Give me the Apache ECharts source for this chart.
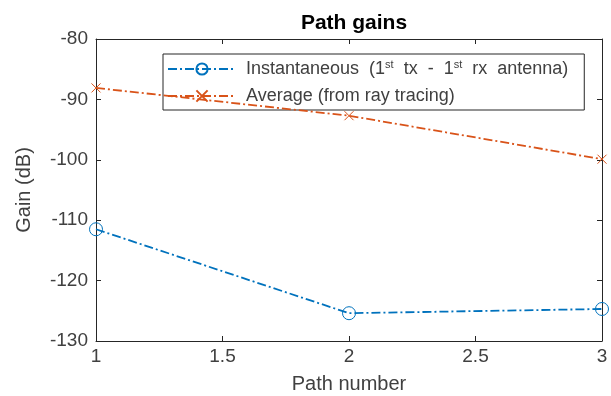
<!DOCTYPE html>
<html><head><meta charset="utf-8">
<script src="https://cdn.jsdelivr.net/npm/echarts@6/dist/echarts.min.js"></script>
<style>html,body{margin:0;padding:0;background:#fff}#c{width:611px;height:396px}</style>
</head><body><div id="c"></div>
<script>
const pathNumbers = [1, 2, 3];
const instantaneous = [-111.5, -125.4, -124.7];
const average = [-88.1, -92.7, -99.9];
const seriesNames = ['Instantaneous', 'Average'];
const xTicks = [1, 1.5, 2, 2.5, 3];
const yTicks = [-130, -120, -110, -100, -90, -80];

const axisCol = '#262626';
const labCol = '#404040';
const font = 'Arial, "Liberation Sans", Helvetica, sans-serif';
const chart = echarts.init(document.getElementById('c'));
const xPath = 'path://M0,0L10,10M10,0L0,10';
const dash = [9, 3, 2, 3];
chart.setOption({
  animation: false,
  backgroundColor: '#fff',
  title: {text: 'Path gains', left: 349, textAlign: 'center', top: 8,
    textStyle: {fontFamily: font, fontSize: 21, fontWeight: 'bold', color: '#000'}},
  grid: {left: 96, right: 9, top: 39, bottom: 55, outerBoundsMode: 'none', containLabel: false},
  legend: {
    orient: 'vertical', left: 163, top: 54,
    itemWidth: 68, itemHeight: 14, itemGap: 9,
    padding: [5, 16, 5, 4],
    borderColor: axisCol, borderWidth: 1, backgroundColor: '#fff',
    data: seriesNames,
    formatter: function (n) {
      if (n === 'Instantaneous') return '{a| Instantaneous  (1}{s|st}{a|  tx  -  1}{s|st}{a|  rx  antenna)}';
      return '{a| Average (from ray tracing)}';
    },
    textStyle: {fontFamily: font, fontSize: 18, color: labCol,
      rich: {a: {fontFamily: font, fontSize: 18, color: labCol, lineHeight: 20},
             s: {fontFamily: font, fontSize: 11, color: labCol, verticalAlign: 'top', lineHeight: 20, padding: [0, 0, 6, 0]}}}
  },
  xAxis: [{
    type: 'value', min: 1, max: 3, interval: 0.5,
    name: 'Path number', nameLocation: 'middle', nameGap: 33,
    nameTextStyle: {fontFamily: font, fontSize: 20, color: labCol},
    axisLine: {show: true, lineStyle: {color: axisCol}},
    axisTick: {show: true, inside: true, length: 5, lineStyle: {color: axisCol}},
    axisLabel: {fontFamily: font, fontSize: 19, color: labCol, margin: 6,
      customValues: xTicks, formatter: v => String(v)},
    splitLine: {show: false}
  }, {
    type: 'value', min: 1, max: 3, interval: 0.5, position: 'top',
    axisLine: {show: true, lineStyle: {color: axisCol}},
    axisTick: {show: true, inside: true, length: 5, lineStyle: {color: axisCol}},
    axisLabel: {show: false}, splitLine: {show: false}
  }],
  yAxis: [{
    type: 'value', min: -130, max: -80, interval: 10,
    name: 'Gain (dB)', nameLocation: 'middle', nameGap: 62, nameRotate: 90,
    nameTextStyle: {fontFamily: font, fontSize: 20, color: labCol},
    axisLine: {show: true, lineStyle: {color: axisCol}},
    axisTick: {show: true, inside: true, length: 5, lineStyle: {color: axisCol}},
    axisLabel: {fontFamily: font, fontSize: 19, color: labCol, margin: 8,
      customValues: yTicks},
    splitLine: {show: false}
  }, {
    type: 'value', min: -130, max: -80, interval: 10, position: 'right',
    axisLine: {show: true, lineStyle: {color: axisCol}},
    axisTick: {show: true, inside: true, length: 5, lineStyle: {color: axisCol}},
    axisLabel: {show: false}, splitLine: {show: false}
  }],
  series: [{
    name: seriesNames[0], type: 'line',
    data: pathNumbers.map((x, i) => [x, instantaneous[i]]),
    color: '#0072BD',
    lineStyle: {color: '#0072BD', width: 1.8, type: dash},
    symbol: 'circle', symbolSize: 13,
    itemStyle: {color: 'rgba(0,0,0,0)', borderColor: '#0072BD', borderWidth: 1},
    clip: false, z: 10
  }, {
    name: seriesNames[1], type: 'line',
    data: pathNumbers.map((x, i) => [x, average[i]]),
    color: '#D95319',
    lineStyle: {color: '#D95319', width: 1.8, type: dash},
    symbol: xPath, symbolSize: 9,
    itemStyle: {color: 'rgba(0,0,0,0)', borderColor: '#D95319', borderWidth: 1},
    clip: false, z: 9
  }]
});
</script></body></html>
